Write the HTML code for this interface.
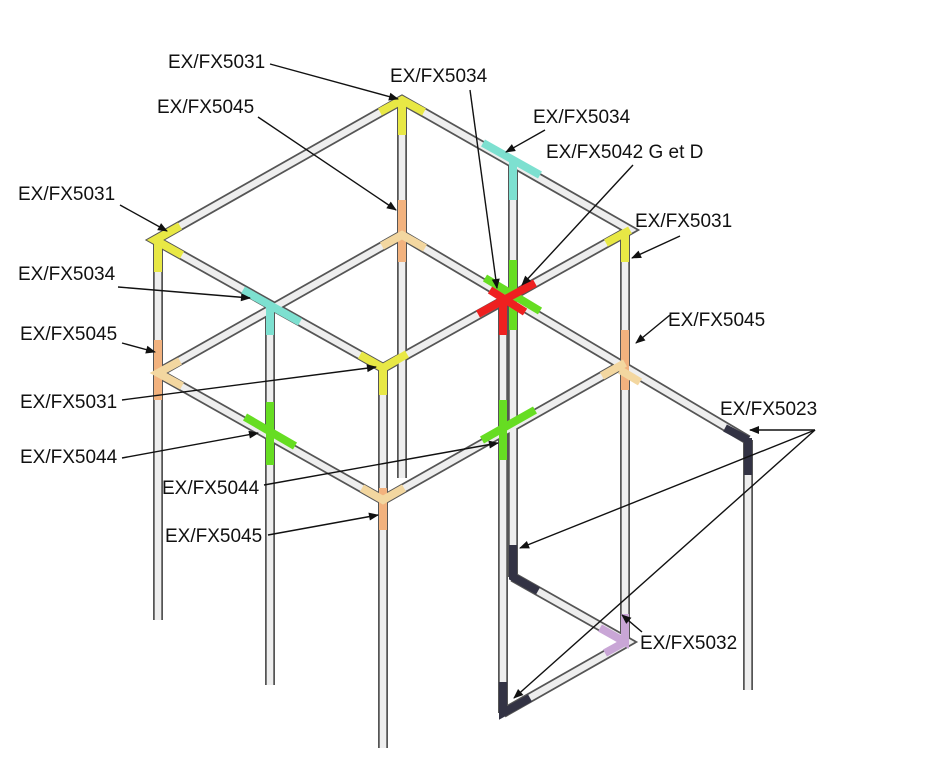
<!DOCTYPE html>
<html><head><meta charset="utf-8"><style>
html,body{margin:0;padding:0;background:#fff}
svg{display:block}
text{font-family:"Liberation Sans Narrow","Liberation Sans",sans-serif;font-size:19px;fill:#111;dominant-baseline:middle}
.o{stroke:#555;stroke-width:10;stroke-linecap:butt;fill:none}
.i{stroke:#eeeeee;stroke-width:6.5;fill:none}
.a{stroke:#111;stroke-width:1.4;fill:none;marker-end:url(#ah)}
</style></head><body>
<svg width="943" height="780" viewBox="0 0 943 780">
<defs>
<marker id="ah" viewBox="0 0 10 10" refX="9" refY="5" markerWidth="12" markerHeight="10" orient="auto-start-reverse" markerUnits="userSpaceOnUse">
<path d="M0,1 L10,5 L0,9 z" fill="#111"/></marker>
<g id="pipes">
<path d="M158,240 L158,620"/><path d="M270,305 L270,685"/><path d="M383,368 L383,748"/>
<path d="M402,100 L402,478"/><path d="M625,232 L625,642"/><path d="M513,160 L513,577"/>
<path d="M503,300 L503,713"/><path d="M748,440 L748,690"/>
<path d="M402,100 L155,240 L383,368 L630,230 Z"/>
<path d="M158,373 L402,235 L748,440"/>
<path d="M158,373 L383,500 L625,363"/>
<path d="M513,577 L628,642 L503,713"/>
</g>
</defs>
<g class="o"><use href="#pipes"/></g>
<g class="i"><use href="#pipes"/></g>
<g stroke-width="8" fill="none" stroke-linecap="butt">
<path d="M380,112 L402,100 L424,112 M402,100 L402,135" stroke="#e8e845"/>
<path d="M180,226 L155,240 L182,255 M158,240 L158,272" stroke="#e8e845"/>
<path d="M606,243 L630,230 M625,232 L625,262" stroke="#e8e845"/>
<path d="M360,355 L383,368 L407,354 M383,368 L383,395" stroke="#e8e845"/>
<path d="M402,200 L402,262" stroke="#f2b27e"/>
<path d="M382,246 L402,235 L425,248" stroke="#f3d7a0"/>
<path d="M158,340 L158,400" stroke="#f2b27e"/>
<path d="M180,361 L158,373 L182,386" stroke="#f3d7a0"/>
<path d="M625,330 L625,390" stroke="#f2b27e"/>
<path d="M602,376 L625,363 M620,370 L640,382" stroke="#f3d7a0"/>
<path d="M383,488 L383,530" stroke="#f2b27e"/>
<path d="M362,488 L383,500 L404,488" stroke="#f3d7a0"/>
<path d="M243,290 L300,322 M270,305 L270,335" stroke="#7de0d0"/>
<path d="M483,143 L540,175 M513,160 L513,200" stroke="#7de0d0"/>
<path d="M485,278 L540,311 M513,260 L513,330" stroke="#66dd22"/>
<path d="M478,314 L535,283 M503,298 L503,335 M490,290 L525,312" stroke="#ee2020"/>
<path d="M503,400 L503,460 M482,440 L535,410" stroke="#66dd22"/>
<path d="M270,402 L270,465 M245,417 L295,446" stroke="#66dd22"/>
<path d="M725,428 L748,440 M748,438 L748,475" stroke="#333344"/>
<path d="M513,545 L513,577 L538,591" stroke="#333344"/>
<path d="M503,682 L503,713 L530,698" stroke="#333344"/>
<path d="M625,614 L625,642 L600,628 M625,642 L605,653" stroke="#c9a6d6"/>
</g>
<text x="168" y="63">EX/FX5031</text><path class="a" d="M270,64 L398,99"/>
<text x="390" y="77">EX/FX5034</text><path class="a" d="M470,90 L497,288"/>
<text x="157" y="108">EX/FX5045</text><path class="a" d="M258,117 L396,210"/>
<text x="533" y="118">EX/FX5034</text><path class="a" d="M545,130 L506,152"/>
<text x="546" y="153">EX/FX5042 G et D</text><path class="a" d="M633,165 L522,285"/>
<text x="18" y="195">EX/FX5031</text><path class="a" d="M120,205 L167,231"/>
<text x="635" y="222">EX/FX5031</text><path class="a" d="M680,236 L632,258"/>
<text x="18" y="275">EX/FX5034</text><path class="a" d="M118,287 L250,298"/>
<text x="20" y="335">EX/FX5045</text><path class="a" d="M122,343 L155,352"/>
<text x="668" y="321">EX/FX5045</text><path class="a" d="M670,315 L636,343"/>
<text x="20" y="403">EX/FX5031</text><path class="a" d="M122,400 L376,367"/>
<text x="720" y="410">EX/FX5023</text>
<path class="a" d="M815,430 L750,430"/><path class="a" d="M815,430 L520,548"/><path class="a" d="M815,430 L514,698"/>
<text x="20" y="458">EX/FX5044</text><path class="a" d="M122,458 L258,433"/>
<text x="162" y="489">EX/FX5044</text><path class="a" d="M264,485 L498,443"/>
<text x="165" y="537">EX/FX5045</text><path class="a" d="M268,535 L378,515"/>
<text x="640" y="644">EX/FX5032</text><path class="a" d="M642,632 L622,615"/>
</svg>
</body></html>
